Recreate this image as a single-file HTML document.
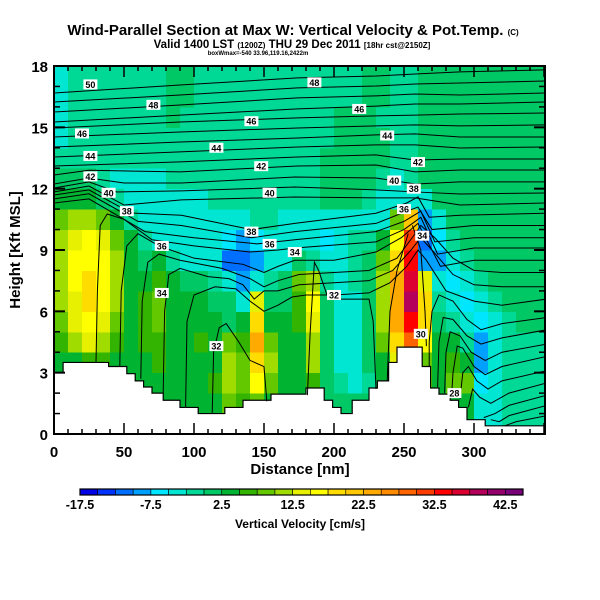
<!DOCTYPE html>
<html><head><meta charset="utf-8"><style>
html,body{margin:0;padding:0;background:#fff;}
svg{display:block;font-family:"Liberation Sans",sans-serif;}
</style></head><body>
<svg id="chart" width="600" height="600" viewBox="0 0 600 600">
<text x="293" y="35" text-anchor="middle" font-size="15" font-weight="bold">Wind-Parallel Section at Max W: Vertical Velocity &amp; Pot.Temp. <tspan font-size="8">(C)</tspan></text>
<text x="292" y="48" text-anchor="middle" font-size="11.5" font-weight="bold">Valid 1400 LST <tspan font-size="8">(1200Z)</tspan> THU 29 Dec 2011 <tspan font-size="8">[18hr cst@2150Z]</tspan></text>
<text x="258" y="55" text-anchor="middle" font-size="6" font-weight="bold">boxWmax=-540 33.96,119.16,2422m</text>
<defs><clipPath id="plotclip"><rect x="54" y="66" width="491" height="368"/></clipPath></defs>
<g id="cells" clip-path="url(#plotclip)" shape-rendering="crispEdges"></g>
<g id="terrain" clip-path="url(#plotclip)"></g>
<g id="lines" clip-path="url(#plotclip)"></g>
<g id="labels"></g>
<g id="axes"></g>
<g id="cbar"></g>
<text x="300" y="474" text-anchor="middle" font-size="15" font-weight="bold">Distance [nm]</text>
<text transform="translate(20,250) rotate(-90)" text-anchor="middle" font-size="15" font-weight="bold">Height [Kft MSL]</text>
<text x="300" y="528" text-anchor="middle" font-size="12" font-weight="bold">Vertical Velocity [cm/s]</text>
</svg>
<script>
const xTicks=[0,50,100,150,200,250,300];
const yTicks=[0,3,6,9,12,15,18];
const cbLabels=["-17.5","-7.5","2.5","12.5","22.5","32.5","42.5"];
const cbColors=["#0000e6","#0032ff","#006eff","#00a0ff","#00e6ff","#00e6d2","#00d896","#00c864","#00b432","#32b400","#64c800","#a0dc00","#e6f000","#ffff00","#ffdc00","#ffc800","#ffaa00","#ff8c00","#ff6400","#ff3c00","#ff0000","#dc0032","#b4005a","#96006e","#780078"];
const colNm=10;
const w17=[-4,-1,-1,-1,-1,-1,-1,-1,1,1,-1,-1,-1,-1,-1,-1,-1,-1,-1,-1,-1,-1,1,1,-1,-1,1,1,1,1,1,1,1,1,1];
const w16=[-4,-1,-1,-1,-1,-1,-1,-1,1,1,-1,-1,-1,-1,-1,-1,-1,-1,-1,-1,-1,-1,1,1,-1,-1,1,1,1,1,1,1,1,1,1];
const w15=[-4,-1,-1,-1,-1,-1,-1,-1,1,-1,-1,-1,-1,-1,-1,-1,-1,-1,-1,-1,1,1,1,-1,-1,-1,1,1,1,1,1,1,1,1,1];
const w14=[-4,-1,-1,-1,-1,-1,-1,-1,-1,-1,-1,-1,-1,-1,-1,-1,-1,-1,-1,-1,1,1,1,1,-1,-1,1,1,1,1,1,1,1,1,1];
const w13=[-1,-1,-1,-1,-1,-1,-1,-1,-1,-1,-1,-1,-1,-1,-1,-1,-1,-1,-1,1,1,1,1,1,-1,-1,1,1,1,1,1,1,1,1,1];
const w12=[1,1,1,-1,-4,-4,-4,-4,-1,-1,-1,-1,-1,-1,-1,-1,-1,-1,-1,1,1,1,1,-1,-4,-1,1,1,1,1,1,1,1,1,1];
const w11=[4,4,4,1,-1,-4,-4,-4,-4,-4,-4,-1,-1,-1,-1,-1,-1,-1,-1,1,1,1,-1,-4,-4,-4,-4,1,1,1,1,1,1,1,1];
const w10=[9,12,12,9,4,-1,-4,-4,-4,-4,-4,-4,-4,-4,-1,-1,-4,-4,-4,-4,-4,-4,-4,-4,9,22,-9,-4,1,1,1,1,1,1,1];
const w9=[12,14,16,14,9,4,-1,-4,-4,-4,-4,-4,-7,-9,-7,-4,-4,-4,-4,-7,-4,-1,-1,4,16,30,-12,-7,-1,1,1,1,1,1,1];
const w8=[12,16,16,16,12,4,1,4,-1,-4,-4,-4,-12,-12,-9,-4,-4,1,-1,-4,-4,-1,1,9,19,34,-9,-9,-4,-1,1,1,1,1,1];
const w7=[12,16,19,16,12,4,4,7,4,1,1,-1,-4,-9,-4,-1,1,9,12,-1,-4,-1,1,12,24,36,14,-4,-7,-4,-1,1,1,1,1];
const w6=[12,14,19,16,12,4,7,9,4,4,4,1,1,-4,14,1,1,7,16,1,-4,-4,1,12,24,38,19,-1,-4,-7,-4,-1,1,1,1];
const w5=[9,14,16,14,9,4,7,9,4,4,4,4,1,4,19,4,4,7,14,1,-4,-4,1,12,24,33,19,1,-1,-4,-7,-4,-1,1,1];
const w4=[7,12,14,12,7,4,7,7,4,4,7,4,9,7,24,9,4,4,12,1,-4,-4,1,9,19,28,16,4,4,-1,-9,-4,-1,-1,-1];
const w3=[4,4,7,7,4,4,4,7,4,4,4,4,12,9,19,12,4,4,12,1,-4,-4,1,4,14,19,9,4,7,4,-9,-4,-1,-1,-1];
const w2=[4,4,4,4,4,4,4,4,4,4,4,7,12,9,16,9,4,4,7,1,-1,-4,-1,4,9,12,9,4,9,9,-7,-4,-1,-1,-1];
const w1=[4,4,4,4,4,4,4,4,4,4,4,4,9,7,9,4,4,4,4,1,1,1,1,4,4,4,4,4,4,4,-4,-4,-1,-1,-1];
const w0=[4,4,4,4,4,4,4,4,4,4,4,4,9,7,9,4,4,4,4,1,1,1,1,4,4,4,4,4,4,4,-4,-4,-1,-1,-1];
const wRows=[w0,w1,w2,w3,w4,w5,w6,w7,w8,w9,w10,w11,w12,w13,w14,w15,w16,w17];
const terrainNm=[0,6.5,39,52,58,64,70,78,90,103,122,135,155,180,193,199,205,213,225,231,239,245,263,269,275,283,289,295,308,352];
const terrainKft=[3.0,3.5,3.3,2.95,2.6,2.3,2.0,1.65,1.3,1.0,1.3,1.65,1.95,2.25,1.65,1.3,1.0,1.65,2.25,2.6,3.5,4.25,3.3,2.25,1.95,1.65,1.3,0.7,0.4,0.4];
const isoLines=[
[[0,16.68],[90,17.07],[174,17.42],[230,17.51],[258,17.61],[290,17.71],[352,17.81]],
[[0,16.24],[90,16.58],[174,16.93],[230,17.02],[258,17.12],[290,17.17],[352,17.27]],
[[0,15.75],[90,16.09],[174,16.44],[230,16.54],[258,16.63],[290,16.58],[352,16.68]],
[[0,15.26],[90,15.6],[174,15.9],[230,16.04],[258,16.14],[290,16.14],[352,16.24]],
[[0,14.97],[90,15.26],[174,15.46],[230,15.56],[258,15.6],[290,15.65],[352,15.7]],
[[0,14.53],[90,14.77],[174,14.97],[230,15.07],[258,15.12],[290,15.07],[352,15.12]],
[[0,14.04],[90,14.28],[174,14.48],[230,14.63],[258,14.68],[290,14.53],[352,14.53]],
[[0,13.55],[90,13.8],[174,14.04],[230,14.14],[258,14.14],[290,13.99],[352,14.04]],
[[0,13.11],[90,13.31],[174,13.55],[230,13.65],[258,13.4],[290,13.45],[352,13.45]],
[[0,12.67],[25,12.9],[90,12.82],[174,13.11],[230,13.16],[258,12.82],[290,12.91],[352,12.91]],
[[0,12.23],[25,12.52],[50,12.28],[91,12.28],[172,12.57],[230,12.52],[258,12.23],[290,12.33],[352,12.33]],
[[0,12.03],[25,12.33],[45,11.84],[91,11.89],[172,12.08],[230,11.94],[258,11.84],[290,11.74],[352,11.79]],
[[0,11.84],[25,12.13],[50,11.2],[91,11.45],[172,11.59],[230,11.55],[258,11.55],[290,11.2],[352,11.3]],
[[0,11.69],[25,11.94],[55,10.81],[91,10.7],[141,10.0],[172,10.3],[230,10.8],[252,11.3],[260,11.6],[268,10.6],[290,10.7],[352,10.8]],
[[0,11.5],[25,11.75],[60,10.4],[91,10.2],[141,9.6],[172,9.9],[230,10.3],[252,10.9],[260,11.1],[270,10.0],[300,10.2],[352,10.2]],
[[0,11.3],[25,11.5],[65,9.9],[100,9.6],[145,9.3],[172,9.5],[230,9.9],[250,10.4],[262,10.9],[272,9.4],[300,9.6],[352,9.6]],
[[30,3.5],[31,7],[33,10.2],[38,10.76],[50,10.5],[70,9.5],[100,9.2],[140,8.9],[160,9.0],[172,9.1],[230,9.4],[250,10.0],[262,10.6],[274,8.8],[300,9.1],[352,9.1]],
[[47,3.3],[48,7],[52,9.2],[60,9.8],[75,9.2],[100,8.6],[135,8.3],[150,7.9],[160,8.2],[172,8.5],[200,8.5],[230,8.9],[248,9.6],[260,10.3],[276,8.2],[300,8.5],[352,8.5]],
[[62,2.7],[63,6.5],[67,8.4],[75,8.8],[90,8.5],[120,8.1],[140,7.6],[150,7.2],[160,7.5],[175,7.8],[200,7.9],[225,8.0],[245,8.6],[258,9.8],[262,10.2],[272,9.6],[285,8.6],[300,8.0],[320,7.9],[352,7.9]],
[[78,2.0],[79,6],[82,7.8],[90,8.1],[110,7.7],[125,7.6],[135,7.3],[143,6.6],[150,7.0],[160,7.0],[175,7.3],[200,7.4],[225,7.5],[242,8.0],[255,9.0],[262,9.6],[270,9.0],[285,7.8],[300,7.3],[320,7.2],[352,7.2]],
[[94,1.3],[95,5.5],[100,6.8],[115,7.2],[130,7.1],[140,6.5],[150,6.0],[160,6.3],[170,6.7],[180,6.8],[200,6.8],[225,6.9],[240,7.4],[252,8.2],[260,9.0],[266,8.5],[280,7.0],[300,6.5],[320,6.3],[352,6.6]],
[[113,1.0],[114,4],[118,5.2],[123,5.4],[132,4.5],[140,3.6],[150,3.3],[152,1.6]],
[[181,1.9],[183,5],[186,8.4],[189,8.0],[195,6.8],[205,6.6],[225,6.6],[228,5.5],[230,2.2]],
[[238,2.6],[240,6],[245,8],[253,9.8]],
[[256,10.2],[262,9],[265,6],[266,4.3]],
[[352,5.7],[320,5.4],[305,5.1],[295,5.6],[285,6.5],[275,6.8],[270,6.0],[268,4.5],[268,3.3]],
[[352,5.1],[320,4.7],[305,4.4],[295,4.8],[285,5.6],[278,5.7],[275,4.5],[274,2.3]],
[[352,4.4],[320,4.0],[308,3.6],[298,4.0],[290,4.8],[283,5.0],[280,4.0],[279,2.0]],
[[352,3.8],[320,3.3],[308,2.9],[300,3.3],[292,4.2],[288,4.3],[285,3.0],[284,1.9]],
[[352,3.1],[320,2.6],[310,2.2],[302,2.6],[296,3.3],[292,3.0],[290,1.7]],
[[352,2.5],[325,2.0],[312,1.5],[304,1.8],[299,2.2],[296,1.3]],
[[352,1.9],[325,1.4],[315,1.0],[307,0.8]],
[[352,1.4],[325,0.9],[318,0.6],[312,0.7]],
[[352,0.9],[330,0.6],[322,0.4]]
];
const labelNm=[26,71,186,20,141,218,26,116,238,26,148,260,39,154,243,52,141,257,77,154,250,172,77,263,200,116,262,286];
const labelKft=[17.1,16.1,17.2,14.7,15.3,15.9,13.6,14.0,14.6,12.6,13.1,13.3,11.8,11.8,12.4,10.9,9.9,12.0,9.2,9.3,11.0,8.9,6.9,9.7,6.8,4.3,4.9,2.0];
const labelText=["50","48","48","46","46","46","44","44","44","42","42","42","40","40","40","38","38","38","36","36","36","34","34","34","32","32","30","28"];

const NS="http://www.w3.org/2000/svg";
const X=nm=>54+nm*1.4;
const Y=k=>434-k*(368/18);
const CB=v=>80+(v+17.5)*(443/62.5);
function colorFor(v){let i=Math.floor((v+17.5)/2.5);i=Math.max(0,Math.min(24,i));return cbColors[i];}
function mk(tag,attrs,parent){const e=document.createElementNS(NS,tag);for(const k in attrs)e.setAttribute(k,attrs[k]);parent.appendChild(e);return e;}

const cells=document.getElementById('cells');
wRows.forEach((row,k)=>{row.forEach((v,c)=>{
  const r=mk('rect',{x:X(c*colNm),y:Y(k+1),width:X((c+1)*colNm)-X(c*colNm)+0.5,height:Y(k)-Y(k+1)+0.5,fill:colorFor(v)},cells);
  
  
});});

const ter=document.getElementById('terrain');
let d='M'+X(0)+','+Y(0);
for(let i=0;i<terrainNm.length-1;i++){d+=' L'+X(terrainNm[i])+','+Y(terrainKft[i])+' L'+X(terrainNm[i+1])+','+Y(terrainKft[i]);}
d+=' L'+X(352)+','+Y(0)+' Z';
const tp=mk('path',{d:d,fill:'#fff',stroke:'#000','stroke-width':1.2},ter);



const lg=document.getElementById('lines');
isoLines.forEach(line=>{
  const p=mk('polyline',{points:line.map(q=>X(q[0])+','+Y(q[1])).join(' '),fill:'none',stroke:'#000','stroke-width':1},lg);
  
  
});

const lb=document.getElementById('labels');
labelText.forEach((t,i)=>{
  const x=X(labelNm[i]),y=Y(labelKft[i]);
  const r=mk('rect',{x:x-7,y:y-5,width:14,height:10,fill:'#fff'},lb);
  
  
  const tx=mk('text',{x:x,y:y+3.5,'text-anchor':'middle','font-size':9,'font-weight':'bold'},lb);
  tx.textContent=t;
  
  
});

const ax=document.getElementById('axes');
for(let n=0;n<=350;n+=10){const big=n%50===0;
  const t1=mk('line',{x1:X(n),x2:X(n),y1:434,y2:434-(big?11:5),stroke:'#000','stroke-width':1.5},ax);
  
  const t2=mk('line',{x1:X(n),x2:X(n),y1:66,y2:66+(big?11:5),stroke:'#000','stroke-width':1.5},ax);
  
}
for(let k=0;k<=18;k++){const big=k%3===0;
  const t1=mk('line',{x1:54,x2:54+(big?11:6),y1:Y(k),y2:Y(k),stroke:'#000','stroke-width':big?2:1.5},ax);
  
  const t2=mk('line',{x1:545,x2:545-(big?11:6),y1:Y(k),y2:Y(k),stroke:'#000','stroke-width':big?2:1.5},ax);
  
}
const fr=mk('rect',{x:54,y:66,width:491,height:368,fill:'none',stroke:'#000','stroke-width':2},ax);

xTicks.forEach(n=>{const t=mk('text',{x:X(n),y:457,'text-anchor':'middle','font-size':15,'font-weight':'bold'},ax);t.textContent=n;
  });
yTicks.forEach(k=>{const t=mk('text',{x:48,y:Y(k)+6,'text-anchor':'end','font-size':15,'font-weight':'bold'},ax);t.textContent=k;
  });

const cb=document.getElementById('cbar');
cbColors.forEach((c,i)=>{const v=-17.5+i*2.5;
  const r=mk('rect',{x:CB(v),y:489,width:CB(v+2.5)-CB(v),height:6,fill:c,stroke:'#000','stroke-width':0.6},cb);
  });
const cbf=mk('rect',{x:80,y:489,width:443,height:6,fill:'none',stroke:'#000','stroke-width':1.2},cb);

cbLabels.forEach(s=>{const t=mk('text',{x:CB(parseFloat(s)),y:509,'text-anchor':'middle','font-size':12.5,'font-weight':'bold'},cb);t.textContent=s;
  });
</script>
</body></html>
